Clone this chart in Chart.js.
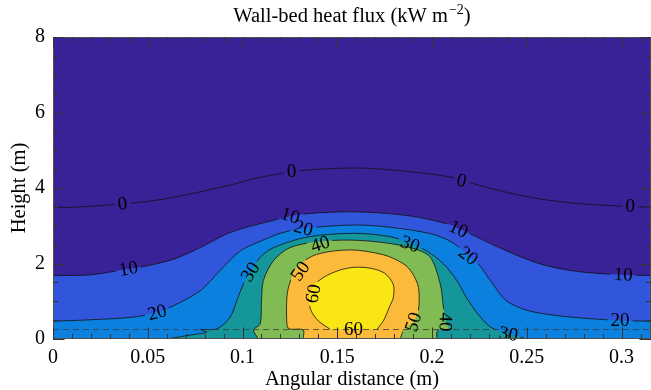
<!DOCTYPE html>
<html>
<head>
<meta charset="utf-8">
<script src="https://cdn.jsdelivr.net/npm/chart.js@4.4.0/dist/chart.umd.min.js"></script>
<style>
  html, body { margin: 0; padding: 0; background: #fff; }
</style>
</head>
<body>
<canvas id="flux" width="651" height="390"></canvas>
<script>
// axis limits and tick labels
const xMax = 0.3155;
const yMax = 8;
const bedHeight = 0.25;
const xTickLabels = ['0', '0.05', '0.1', '0.15', '0.2', '0.25', '0.3'];
const yTickLabels = ['0', '2', '4', '6', '8'];

// filled contour colours, lowest level first
const levelColors = ['#392298', '#3156db', '#0c80de', '#14969b', '#80bb53', '#fbba3a', '#fae614'];

// contour lines: [angular distance, height]
const contour0 = [[0, 3.49], [0.011, 3.49], [0.037, 3.58], [0.055, 3.68], [0.072, 3.84], [0.092, 4.06], [0.109, 4.28],
  [0.131, 4.46], [0.160, 4.53], [0.187, 4.44], [0.211, 4.28], [0.222, 4.11], [0.239, 3.89], [0.257, 3.71],
  [0.275, 3.60], [0.296, 3.53], [0.3155, 3.49]];
const contour10 = [[0, 1.68], [0.02, 1.70], [0.04, 1.86], [0.048, 1.92], [0.064, 2.12], [0.078, 2.43], [0.092, 2.79],
  [0.102, 2.96], [0.109, 3.05], [0.116, 3.14], [0.125, 3.25], [0.134, 3.32], [0.159, 3.37], [0.187, 3.27],
  [0.208, 3.05], [0.214, 2.92], [0.222, 2.74], [0.239, 2.34], [0.257, 1.99], [0.275, 1.80], [0.296, 1.71], [0.3155, 1.68]];
const contour20 = [[0, 0.47], [0.02, 0.51], [0.0425, 0.58], [0.055, 0.71], [0.064, 0.89], [0.078, 1.29], [0.088, 1.81],
  [0.099, 2.34], [0.109, 2.58], [0.12, 2.80], [0.132, 2.93], [0.159, 3.02], [0.178, 2.96], [0.200, 2.78],
  [0.211, 2.55], [0.219, 2.21], [0.225, 1.95], [0.232, 1.46], [0.239, 1.02], [0.25, 0.76], [0.266, 0.62],
  [0.283, 0.54], [0.30, 0.49], [0.3155, 0.47]];
const contour30 = [[0.060, 0], [0.072, 0.10], [0.081, 0.18], [0.078, 0.25], [0.0865, 0.27], [0.0935, 0.58],
  [0.097, 1.02], [0.1005, 1.46], [0.104, 1.75], [0.109, 2.15], [0.116, 2.41], [0.134, 2.70], [0.159, 2.80],
  [0.178, 2.71], [0.188, 2.54], [0.197, 2.34], [0.206, 1.99], [0.213, 1.55], [0.218, 1.11], [0.224, 0.67],
  [0.231, 0.31], [0.24, 0.14], [0.25, 0]];
const contour40 = [[0.1084, 0], [0.1058, 0.24], [0.1093, 0.40], [0.110, 1.02], [0.111, 1.55], [0.1164, 2.08],
  [0.125, 2.42], [0.140, 2.58], [0.157, 2.62], [0.175, 2.55], [0.190, 2.40], [0.199, 2.17], [0.2043, 1.46],
  [0.206, 0.84], [0.2075, 0.40], [0.2095, 0.26], [0.2030, 0.23], [0.2025, 0]];
const contour50 = [[0.132, 0], [0.132, 0.24], [0.1245, 0.27], [0.1234, 0.40], [0.1234, 1.11], [0.1250, 1.50],
  [0.1287, 1.90], [0.139, 2.24], [0.157, 2.36], [0.1744, 2.23], [0.185, 1.99], [0.1895, 1.75], [0.1928, 1.37],
  [0.1928, 0.76], [0.190, 0.45], [0.185, 0.24], [0.1832, 0]];
const contour60 = [[0.1462, 0.26], [0.140, 0.48], [0.1362, 0.75], [0.135, 1.05], [0.137, 1.38], [0.143, 1.64],
  [0.151, 1.82], [0.159, 1.90], [0.168, 1.87], [0.175, 1.74], [0.1795, 1.45], [0.1796, 1.11], [0.1775, 0.85],
  [0.1745, 0.5], [0.171, 0.26]];

// inline contour labels: [text, x, y, rotation in degrees]
const contourLabels = [
  ['0', 0.0366, 3.59, -7], ['0', 0.1259, 4.45, -4], ['0', 0.2156, 4.20, 12], ['0', 0.3045, 3.53, 2],
  ['10', 0.0398, 1.87, -10], ['10', 0.1252, 3.27, 18], ['10', 0.2140, 2.92, 25], ['10', 0.3008, 1.71, 2],
  ['20', 0.0549, 0.71, -15], ['20', 0.1322, 2.94, 15], ['20', 0.2192, 2.21, 38], ['20', 0.2992, 0.49, 0],
  ['30', 0.1040, 1.78, -57], ['30', 0.1885, 2.52, 20], ['30', 0.2403, 0.14, 8],
  ['40', 0.1410, 2.52, -18], ['40', 0.2072, 0.45, 92],
  ['50', 0.1304, 1.80, -55], ['50', 0.1900, 0.45, -72],
  ['60', 0.1372, 1.20, -80], ['60', 0.1585, 0.27, 0]
];

const serif = "'Liberation Serif', 'Times New Roman', serif";
const labelFont = '19px ' + serif;

const toPoints = arr => arr.map(([x, y]) => ({ x, y }));

function contourSet(level, arr, colorIndex, fill) {
  return {
    label: String(level),
    data: toPoints(arr),
    borderColor: '#111',
    borderWidth: 0.8,
    backgroundColor: colorIndex == null ? 'transparent' : levelColors[colorIndex],
    fill: fill,
    pointRadius: 0,
    tension: 0.3
  };
}

// first dataset is drawn on top; closed regions use 'shape', the others fill down to the axis
const datasets = [
  {
    label: 'bed',
    data: [{ x: 0, y: bedHeight }, { x: xMax, y: bedHeight }],
    borderColor: '#3a3a3a',
    borderWidth: 0.8,
    borderDash: [6, 4],
    pointRadius: 0,
    fill: false
  },
  contourSet(60, contour60, 6, 'shape'),
  contourSet(50, contour50, 5, 'shape'),
  contourSet(40, contour40, 4, 'shape'),
  contourSet(30, contour30, 3, 'shape'),
  contourSet(20, contour20, 2, 'origin'),
  contourSet(10, contour10, 1, 'origin'),
  contourSet(0, contour0, null, false)
];

// background, gaps for labels, labels, box, ticks and titles
const contourDecor = {
  id: 'contourDecor',
  beforeDatasetsDraw(chart) {
    const { ctx, chartArea: a } = chart;
    ctx.save();
    ctx.fillStyle = levelColors[0];
    ctx.fillRect(a.left, a.top, a.right - a.left, a.bottom - a.top);
    ctx.restore();
  },
  beforeDatasetDraw(chart, args) {
    const ctx = chart.ctx;
    const ds = chart.data.datasets[args.index];
    ctx.save();
    const holes = contourLabels.filter(l => l[0] === ds.label);
    if (!holes.length) return;
    const xs = chart.scales.x, ys = chart.scales.y;
    ctx.font = labelFont;
    ctx.beginPath();
    ctx.rect(0, 0, chart.width, chart.height);
    holes.forEach(([t, x, y, ang]) => {
      const px = xs.getPixelForValue(x), py = ys.getPixelForValue(y);
      const w = ctx.measureText(t).width / 2 + 3, h = 7;
      const r = ang * Math.PI / 180, c = Math.cos(r), s = Math.sin(r);
      const pts = [[-w, -h], [w, -h], [w, h], [-w, h]].map(([u, v]) => [px + u * c - v * s, py + u * s + v * c]);
      ctx.moveTo(pts[0][0], pts[0][1]);
      pts.slice(1).forEach(p => ctx.lineTo(p[0], p[1]));
      ctx.closePath();
    });
    ctx.clip('evenodd');
  },
  afterDatasetDraw(chart) {
    chart.ctx.restore();
  },
  afterDatasetsDraw(chart) {
    const ctx = chart.ctx;
    const xs = chart.scales.x, ys = chart.scales.y;
    ctx.save();
    ctx.font = labelFont;
    ctx.fillStyle = '#000';
    ctx.textAlign = 'center';
    ctx.textBaseline = 'middle';
    contourLabels.forEach(([t, x, y, ang]) => {
      ctx.save();
      ctx.translate(xs.getPixelForValue(x), ys.getPixelForValue(y));
      ctx.rotate(ang * Math.PI / 180);
      ctx.fillText(t, 0, 1);
      ctx.restore();
    });
    ctx.restore();
  },
  afterDraw(chart) {
    const { ctx, chartArea: a } = chart;
    const xs = chart.scales.x, ys = chart.scales.y;
    ctx.save();
    // box
    ctx.strokeStyle = '#505050';
    ctx.lineWidth = 1;
    ctx.strokeRect(a.left + 0.5, a.top + 0.5, a.right - a.left - 1, a.bottom - a.top - 1);
    // inward ticks on all four sides
    ctx.strokeStyle = '#333';
    ctx.beginPath();
    for (let i = 0; i * 0.01 <= xMax + 1e-9; i++) {
      const px = Math.round(xs.getPixelForValue(i * 0.01)) + 0.5;
      const len = i % 5 === 0 ? 11.5 : 5;
      ctx.moveTo(px, a.bottom); ctx.lineTo(px, a.bottom - len);
      ctx.moveTo(px, a.top); ctx.lineTo(px, a.top + len);
    }
    for (let i = 0; i * 0.5 <= yMax + 1e-9; i++) {
      const py = Math.round(ys.getPixelForValue(i * 0.5)) + 0.5;
      const len = i % 4 === 0 ? 11.5 : 5;
      ctx.moveTo(a.left, py); ctx.lineTo(a.left + len, py);
      ctx.moveTo(a.right, py); ctx.lineTo(a.right - len, py);
    }
    ctx.stroke();

    // title with superscript
    ctx.fillStyle = '#000';
    ctx.textBaseline = 'alphabetic';
    const main = 'Wall-bed heat flux (kW m', sup = '\u22122', close = ')';
    const big = '20.5px ' + serif, small = '14px ' + serif;
    ctx.font = big;
    const wMain = ctx.measureText(main).width, wClose = ctx.measureText(close).width;
    ctx.font = small;
    const wSup = ctx.measureText(sup).width;
    const tx = (a.left + a.right) / 2 - (wMain + wSup + wClose + 1) / 2;
    const base = 22;
    ctx.textAlign = 'left';
    ctx.font = big;
    ctx.fillText(main, tx, base);
    ctx.font = small;
    ctx.fillText(sup, tx + wMain + 1, base - 8);
    ctx.font = big;
    ctx.fillText(close, tx + wMain + wSup + 1, base);

    // axis titles
    ctx.font = big;
    ctx.textAlign = 'center';
    ctx.textBaseline = 'middle';
    ctx.fillText('Angular distance (m)', (a.left + a.right) / 2, 380);
    ctx.save();
    ctx.translate(20, (a.top + a.bottom) / 2);
    ctx.rotate(-Math.PI / 2);
    ctx.fillText('Height (m)', 0, 0);
    ctx.restore();
    ctx.restore();
  }
};

new Chart(document.getElementById('flux'), {
  type: 'line',
  data: { datasets },
  options: {
    responsive: false,
    animation: false,
    layout: { padding: { top: 37, right: 0, left: 0, bottom: 0 } },
    plugins: {
      legend: { display: false },
      tooltip: { enabled: false },
      title: { display: false }
    },
    scales: {
      x: {
        type: 'linear',
        min: 0,
        max: xMax,
        grid: { display: false, drawTicks: false },
        border: { display: false },
        ticks: {
          stepSize: 0.05,
          includeBounds: false,
          autoSkip: false,
          maxRotation: 0,
          padding: 7,
          color: '#000',
          font: { family: serif, size: 20 },
          callback: (v, i) => xTickLabels[i]
        },
        afterFit: s => { s.height = 51; }
      },
      y: {
        type: 'linear',
        min: 0,
        max: yMax,
        grid: { display: false, drawTicks: false },
        border: { display: false },
        ticks: {
          stepSize: 2,
          padding: 8,
          color: '#000',
          font: { family: serif, size: 20 },
          callback: (v, i) => yTickLabels[i]
        },
        afterFit: s => { s.width = 53; }
      }
    }
  },
  plugins: [contourDecor]
});
</script>
</body>
</html>
